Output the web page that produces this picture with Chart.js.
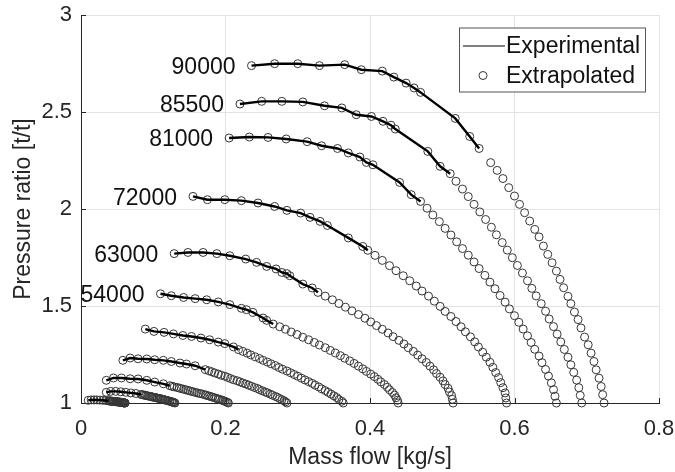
<!DOCTYPE html>
<html>
<head>
<meta charset="utf-8">
<script src="https://cdn.jsdelivr.net/npm/chart.js@4.4.0/dist/chart.umd.min.js"></script>
<style>
  html, body { margin: 0; padding: 0; background: #fff; }
</style>
</head>
<body>
<canvas id="chart" width="675" height="472"></canvas>
<script>
// speed lines, top to bottom (only the first six are labelled in the figure)
const speeds = ["90000", "85500", "81000", "72000", "63000", "54000", "45000", "36000", "27000", "18000", "9000"];
const labelledCount = 6;

const xTicks = [0, 0.2, 0.4, 0.6, 0.8];
const yTicks = [1, 1.5, 2, 2.5, 3];

// [mass flow, pressure ratio]
const exp90000 = [[0.236,2.739],[0.268,2.749],[0.300,2.749],[0.330,2.739],[0.365,2.744],[0.388,2.718],[0.417,2.711],[0.433,2.680],[0.450,2.649],[0.461,2.624],[0.470,2.601],[0.518,2.467],[0.538,2.374],[0.551,2.312]];
const ext90000 = [[0.567,2.239],[0.576,2.199],[0.584,2.157],[0.592,2.110],[0.600,2.067],[0.607,2.024],[0.614,1.981],[0.621,1.938],[0.628,1.895],[0.634,1.856],[0.640,1.809],[0.646,1.766],[0.652,1.723],[0.658,1.680],[0.663,1.637],[0.668,1.594],[0.674,1.550],[0.678,1.512],[0.683,1.469],[0.688,1.430],[0.692,1.387],[0.697,1.340],[0.702,1.300],[0.706,1.257],[0.710,1.214],[0.713,1.171],[0.717,1.128],[0.720,1.085],[0.722,1.043],[0.724,1.000]];

const exp85500 = [[0.220,2.541],[0.250,2.555],[0.278,2.555],[0.307,2.552],[0.337,2.532],[0.361,2.521],[0.381,2.486],[0.402,2.477],[0.418,2.452],[0.429,2.432],[0.435,2.412],[0.480,2.297],[0.497,2.220],[0.511,2.182]];
const ext85500 = [[0.519,2.143],[0.528,2.103],[0.536,2.064],[0.544,2.024],[0.552,1.985],[0.560,1.946],[0.568,1.906],[0.575,1.867],[0.583,1.827],[0.590,1.788],[0.597,1.749],[0.604,1.709],[0.611,1.670],[0.618,1.630],[0.624,1.591],[0.630,1.552],[0.637,1.512],[0.643,1.473],[0.648,1.433],[0.654,1.394],[0.659,1.355],[0.664,1.315],[0.669,1.276],[0.674,1.236],[0.678,1.197],[0.682,1.158],[0.686,1.118],[0.689,1.079],[0.691,1.039],[0.693,1.000]];

const exp81000 = [[0.205,2.366],[0.233,2.371],[0.259,2.369],[0.284,2.361],[0.313,2.347],[0.333,2.326],[0.355,2.312],[0.370,2.289],[0.386,2.268],[0.395,2.240],[0.404,2.228],[0.441,2.137],[0.457,2.074],[0.470,2.039]];
const ext81000 = [[0.479,2.004],[0.487,1.969],[0.496,1.935],[0.504,1.900],[0.512,1.866],[0.520,1.831],[0.528,1.796],[0.536,1.762],[0.544,1.727],[0.551,1.693],[0.559,1.658],[0.566,1.623],[0.573,1.589],[0.580,1.554],[0.587,1.520],[0.593,1.485],[0.600,1.450],[0.606,1.416],[0.612,1.381],[0.618,1.346],[0.623,1.312],[0.628,1.277],[0.634,1.242],[0.638,1.208],[0.643,1.173],[0.647,1.139],[0.651,1.104],[0.654,1.069],[0.656,1.035],[0.658,1.000]];

const exp72000 = [[0.155,2.065],[0.175,2.048],[0.199,2.048],[0.222,2.043],[0.245,2.031],[0.268,2.013],[0.285,1.993],[0.304,1.979],[0.317,1.957],[0.331,1.936],[0.341,1.915],[0.370,1.851],[0.390,1.807],[0.397,1.787]];
const ext72000 = [[0.407,1.761],[0.417,1.735],[0.427,1.708],[0.436,1.682],[0.446,1.656],[0.455,1.630],[0.464,1.603],[0.472,1.577],[0.481,1.551],[0.489,1.525],[0.497,1.498],[0.504,1.472],[0.512,1.446],[0.519,1.420],[0.526,1.393],[0.532,1.367],[0.539,1.341],[0.545,1.315],[0.550,1.289],[0.556,1.262],[0.561,1.236],[0.566,1.210],[0.570,1.184],[0.574,1.157],[0.578,1.131],[0.581,1.105],[0.584,1.079],[0.587,1.052],[0.588,1.026],[0.589,1.000]];

const exp63000 = [[0.129,1.770],[0.148,1.776],[0.169,1.776],[0.188,1.770],[0.206,1.759],[0.228,1.742],[0.243,1.725],[0.257,1.704],[0.270,1.691],[0.278,1.673],[0.285,1.667],[0.289,1.656],[0.307,1.613],[0.320,1.593],[0.328,1.570]];
const ext63000 = [[0.338,1.551],[0.348,1.532],[0.357,1.513],[0.366,1.494],[0.375,1.475],[0.384,1.456],[0.393,1.437],[0.401,1.418],[0.409,1.399],[0.417,1.380],[0.425,1.361],[0.432,1.342],[0.440,1.323],[0.447,1.304],[0.453,1.285],[0.460,1.266],[0.466,1.247],[0.472,1.228],[0.478,1.209],[0.483,1.190],[0.488,1.171],[0.492,1.152],[0.497,1.133],[0.501,1.114],[0.504,1.095],[0.508,1.076],[0.510,1.057],[0.513,1.038],[0.514,1.019],[0.515,1.000]];

const exp54000 = [[0.110,1.563],[0.125,1.553],[0.142,1.544],[0.158,1.538],[0.174,1.532],[0.190,1.521],[0.206,1.507],[0.222,1.488],[0.229,1.481],[0.238,1.467],[0.252,1.438],[0.257,1.426],[0.266,1.407]];
const ext54000 = [[0.275,1.393],[0.283,1.380],[0.291,1.366],[0.299,1.353],[0.307,1.339],[0.315,1.326],[0.323,1.312],[0.330,1.299],[0.338,1.285],[0.345,1.271],[0.352,1.258],[0.359,1.244],[0.365,1.231],[0.372,1.217],[0.378,1.204],[0.384,1.190],[0.390,1.176],[0.395,1.163],[0.401,1.149],[0.406,1.136],[0.411,1.122],[0.415,1.109],[0.420,1.095],[0.424,1.081],[0.427,1.068],[0.431,1.054],[0.434,1.041],[0.436,1.027],[0.438,1.014],[0.439,1.000]];

const exp45000 = [[0.089,1.381],[0.101,1.369],[0.115,1.364],[0.128,1.356],[0.141,1.348],[0.153,1.343],[0.166,1.335],[0.178,1.326],[0.190,1.314],[0.199,1.306],[0.211,1.289],[0.218,1.275]];
const ext45000 = [[0.224,1.266],[0.230,1.257],[0.235,1.248],[0.241,1.238],[0.247,1.229],[0.252,1.220],[0.258,1.211],[0.263,1.202],[0.269,1.193],[0.274,1.183],[0.279,1.174],[0.285,1.165],[0.290,1.156],[0.295,1.147],[0.300,1.138],[0.305,1.128],[0.310,1.119],[0.315,1.110],[0.320,1.101],[0.324,1.092],[0.329,1.083],[0.333,1.073],[0.338,1.064],[0.342,1.055],[0.346,1.046],[0.350,1.037],[0.354,1.028],[0.357,1.018],[0.361,1.009],[0.363,1.000]];

const exp36000 = [[0.058,1.220],[0.068,1.232],[0.079,1.228],[0.091,1.227],[0.102,1.223],[0.114,1.220],[0.125,1.214],[0.137,1.206],[0.146,1.201],[0.158,1.192],[0.172,1.172]];
const ext36000 = [[0.177,1.166],[0.181,1.161],[0.185,1.155],[0.190,1.149],[0.194,1.143],[0.199,1.138],[0.203,1.132],[0.207,1.126],[0.211,1.120],[0.216,1.115],[0.220,1.109],[0.224,1.103],[0.228,1.098],[0.232,1.092],[0.236,1.086],[0.240,1.080],[0.244,1.075],[0.247,1.069],[0.251,1.063],[0.255,1.057],[0.258,1.052],[0.262,1.046],[0.265,1.040],[0.269,1.034],[0.272,1.029],[0.275,1.023],[0.278,1.017],[0.281,1.012],[0.283,1.006],[0.285,1.000]];

const exp27000 = [[0.035,1.117],[0.045,1.129],[0.056,1.129],[0.068,1.125],[0.079,1.124],[0.091,1.117],[0.102,1.108],[0.114,1.099],[0.123,1.089]];
const ext27000 = [[0.126,1.086],[0.129,1.083],[0.133,1.080],[0.136,1.077],[0.139,1.074],[0.142,1.071],[0.145,1.068],[0.148,1.065],[0.151,1.062],[0.154,1.059],[0.157,1.056],[0.160,1.053],[0.163,1.050],[0.166,1.048],[0.169,1.045],[0.172,1.042],[0.174,1.039],[0.177,1.036],[0.180,1.033],[0.182,1.030],[0.185,1.027],[0.187,1.024],[0.190,1.021],[0.192,1.018],[0.195,1.015],[0.197,1.012],[0.199,1.009],[0.201,1.006],[0.203,1.003],[0.204,1.000]];

const exp18000 = [[0.035,1.055],[0.041,1.060],[0.048,1.060],[0.055,1.058],[0.062,1.055],[0.069,1.052],[0.076,1.049],[0.083,1.044]];
const ext18000 = [[0.085,1.043],[0.087,1.041],[0.089,1.040],[0.090,1.038],[0.092,1.037],[0.094,1.035],[0.096,1.034],[0.098,1.032],[0.099,1.031],[0.101,1.029],[0.103,1.028],[0.105,1.026],[0.106,1.025],[0.108,1.024],[0.110,1.022],[0.111,1.021],[0.113,1.019],[0.114,1.018],[0.116,1.016],[0.117,1.015],[0.119,1.013],[0.120,1.012],[0.122,1.010],[0.123,1.009],[0.125,1.007],[0.126,1.006],[0.127,1.004],[0.128,1.003],[0.129,1.002],[0.130,1.000]];

const exp9000 = [[0.010,1.014],[0.014,1.016],[0.018,1.016],[0.022,1.016],[0.026,1.015],[0.030,1.014],[0.034,1.013],[0.038,1.011]];
const ext9000 = [[0.039,1.011],[0.040,1.010],[0.041,1.010],[0.042,1.010],[0.043,1.009],[0.043,1.009],[0.044,1.008],[0.045,1.008],[0.046,1.008],[0.047,1.007],[0.048,1.007],[0.049,1.007],[0.049,1.006],[0.050,1.006],[0.051,1.006],[0.052,1.005],[0.053,1.005],[0.053,1.004],[0.054,1.004],[0.055,1.004],[0.056,1.003],[0.056,1.003],[0.057,1.003],[0.058,1.002],[0.058,1.002],[0.059,1.002],[0.060,1.001],[0.060,1.001],[0.061,1.000],[0.061,1.000]];

const experimental = [exp90000, exp85500, exp81000, exp72000, exp63000, exp54000, exp45000, exp36000, exp27000, exp18000, exp9000];
const extrapolated = [ext90000, ext85500, ext81000, ext72000, ext63000, ext54000, ext45000, ext36000, ext27000, ext18000, ext9000];

const FONT = '"Liberation Sans", Arial, sans-serif';
const TEXT = "#262626";

const toXY = p => ({ x: p[0], y: p[1] });

const datasets = [];
speeds.forEach((speed, i) => {
  datasets.push({
    label: "Experimental",
    data: experimental[i].map(toXY),
    showLine: true,
    borderColor: "#000",
    borderWidth: 2.4,
    pointRadius: 0,
    tension: 0,
    clip: false,
    order: 0,
  });
  datasets.push({
    label: "Extrapolated",
    data: experimental[i].concat(extrapolated[i]).map(toXY),
    showLine: false,
    pointRadius: 4,
    pointBorderWidth: 1,
    pointBorderColor: "#363636",
    pointBackgroundColor: "rgba(0,0,0,0)",
    clip: false,
    order: 1,
  });
});

// inward ticks, speed labels and the legend box
const decorPlugin = {
  id: "decor",
  afterDraw(chart) {
    const { ctx, chartArea } = chart;
    const xs = chart.scales.x;
    const ys = chart.scales.y;
    ctx.save();

    ctx.strokeStyle = TEXT;
    ctx.lineWidth = 1;
    ctx.beginPath();
    xTicks.forEach(v => {
      const px = Math.round(xs.getPixelForValue(v)) + 0.5;
      ctx.moveTo(px, chartArea.bottom);
      ctx.lineTo(px, chartArea.bottom - 5);
    });
    yTicks.forEach(v => {
      const py = Math.round(ys.getPixelForValue(v)) + 0.5;
      ctx.moveTo(chartArea.left, py);
      ctx.lineTo(chartArea.left + 5, py);
    });
    ctx.stroke();

    // speed labels sit left of the first point of each line
    ctx.fillStyle = "#111";
    ctx.font = "23px " + FONT;
    ctx.textAlign = "right";
    ctx.textBaseline = "middle";
    for (let i = 0; i < labelledCount; i++) {
      const first = experimental[i][0];
      const px = xs.getPixelForValue(first[0]);
      const py = ys.getPixelForValue(first[1]);
      ctx.fillText(speeds[i], px - 16, py + 2);
    }

    // legend
    const left = chartArea.right - 200;
    const top = chartArea.top + 12.5;
    ctx.fillStyle = "#fff";
    ctx.fillRect(left, top, 187, 65);
    ctx.strokeStyle = "#555";
    ctx.strokeRect(left + 0.5, top + 0.5, 186, 64);

    ctx.strokeStyle = "#000";
    ctx.beginPath();
    ctx.moveTo(left + 4, top + 18.5);
    ctx.lineTo(left + 46, top + 18.5);
    ctx.stroke();

    ctx.strokeStyle = "#363636";
    ctx.beginPath();
    ctx.arc(left + 24, top + 48, 4, 0, Math.PI * 2);
    ctx.stroke();

    ctx.fillStyle = "#111";
    ctx.textAlign = "left";
    ctx.fillText("Experimental", left + 47, top + 19);
    ctx.fillText("Extrapolated", left + 47, top + 49);

    ctx.restore();
  },
};

new Chart(document.getElementById("chart"), {
  type: "scatter",
  data: { datasets },
  options: {
    responsive: false,
    animation: false,
    events: [],
    layout: { padding: 0 },
    plugins: {
      legend: { display: false },
      tooltip: { enabled: false },
    },
    scales: {
      x: {
        type: "linear",
        min: 0,
        max: 0.8,
        afterFit: s => {
          s.height = 69;
          s.paddingLeft = 0;
          s.paddingRight = 16;
        },
        afterBuildTicks: s => { s.ticks = xTicks.map(v => ({ value: v })); },
        ticks: {
          color: TEXT,
          font: { family: FONT, size: 22 },
          padding: 13,
          maxRotation: 0,
          callback: v => String(Math.round(v * 10) / 10),
        },
        grid: { color: "#e3e3e3", drawTicks: false },
        border: { color: TEXT, width: 1 },
        title: {
          display: true,
          text: "Mass flow [kg/s]",
          color: TEXT,
          font: { family: FONT, size: 23 },
          padding: { top: 0, bottom: 1 },
        },
      },
      y: {
        type: "linear",
        min: 1,
        max: 3,
        afterFit: s => {
          s.width = 81;
          s.paddingTop = 15;
          s.paddingBottom = 0;
        },
        afterBuildTicks: s => { s.ticks = yTicks.map(v => ({ value: v })); },
        ticks: {
          color: TEXT,
          font: { family: FONT, size: 22 },
          padding: 9,
          callback: v => String(v),
        },
        grid: { color: "#e3e3e3", drawTicks: false },
        border: { color: TEXT, width: 1 },
        title: {
          display: true,
          text: "Pressure ratio [t/t]",
          color: TEXT,
          font: { family: FONT, size: 23 },
          padding: { top: 10, bottom: 0 },
        },
      },
    },
  },
  plugins: [decorPlugin],
});
</script>
</body>
</html>
